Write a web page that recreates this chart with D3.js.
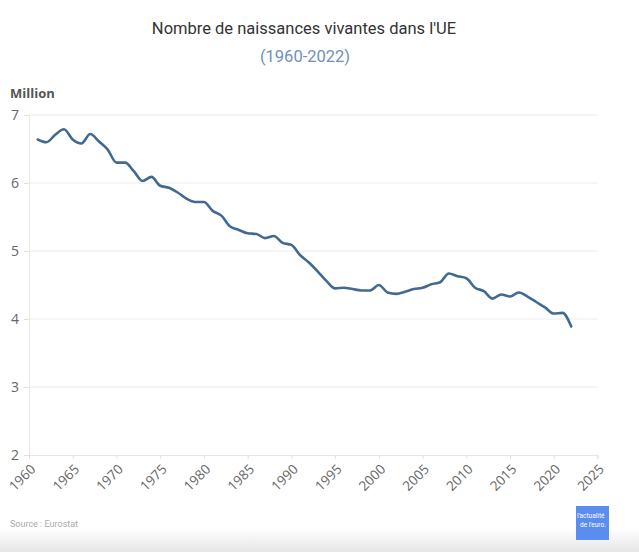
<!DOCTYPE html>
<html>
<head>
<meta charset="utf-8">
<script src="https://cdn.jsdelivr.net/npm/d3@7"></script>
<style>
  html, body { margin: 0; padding: 0; background: #fff; }
  svg { display: block; }
</style>
</head>
<body>
<svg id="chart" width="639" height="552"></svg>
<script>
const years = d3.range(1961, 2023);
const births = [
  6.64, 6.60, 6.71, 6.79, 6.64, 6.58, 6.72, 6.61, 6.49, 6.30,
  6.30, 6.17, 6.03, 6.09, 5.96, 5.93, 5.86, 5.77, 5.72, 5.72,
  5.59, 5.52, 5.36, 5.31, 5.26, 5.25, 5.19, 5.22, 5.12, 5.09,
  4.94, 4.83, 4.70, 4.56, 4.45, 4.46, 4.44, 4.42, 4.42, 4.50,
  4.39, 4.37, 4.40, 4.44, 4.46, 4.51, 4.54, 4.67, 4.63, 4.60,
  4.46, 4.41, 4.30, 4.36, 4.33, 4.39, 4.33, 4.25, 4.17, 4.08,
  4.09, 3.89
];
const yTicks = [2, 3, 4, 5, 6, 7];
const xTicks = [1960, 1965, 1970, 1975, 1980, 1985, 1990, 1995, 2000, 2005, 2010, 2015, 2020, 2025];

const title = "Nombre de naissances vivantes dans l'UE";
const subtitle = "(1960-2022)";
const unitLabel = "Million";
const source = "Source : Eurostat";

const svg = d3.select("#chart");
const font = "Roboto, 'Open Sans', sans-serif";

const x = d3.scaleLinear().domain([1960, 2025]).range([29, 597.5]);
const y = d3.scaleLinear().domain([2, 7]).range([455, 115]);

// bottom gray band
const defs = svg.append("defs");
const grad = defs.append("linearGradient").attr("id", "bottomGrad")
  .attr("x1", 0).attr("y1", 0).attr("x2", 0).attr("y2", 1);
grad.append("stop").attr("offset", 0).attr("stop-color", "#ffffff");
grad.append("stop").attr("offset", 1).attr("stop-color", "#e6e6e6");
svg.append("rect").attr("x", 0).attr("y", 528).attr("width", 639).attr("height", 24)
  .attr("fill", "url(#bottomGrad)");

// titles
svg.append("text").attr("x", 304).attr("y", 34).attr("text-anchor", "middle")
  .attr("font-family", font).attr("font-size", 16.5).attr("fill", "#333")
  .text(title);
svg.append("text").attr("x", 305).attr("y", 62).attr("text-anchor", "middle")
  .attr("font-family", font).attr("font-size", 16.5).attr("fill", "#6f8fbf")
  .text(subtitle);

svg.append("text").attr("x", 10).attr("y", 98)
  .attr("font-family", "'Open Sans', sans-serif").attr("font-size", 13).attr("font-weight", "bold")
  .attr("fill", "#555").text(unitLabel);

// gridlines
svg.append("g").selectAll("line").data(yTicks.filter(d => d !== 2)).join("line")
  .attr("x1", x(1960)).attr("x2", x(2025))
  .attr("y1", d => y(d)).attr("y2", d => y(d))
  .attr("stroke", "#ececec").attr("stroke-width", 1);

// y axis
const yAxis = svg.append("g").attr("transform", `translate(${x(1960)},0)`)
  .call(d3.axisLeft(y).tickValues(yTicks).tickSize(5).tickPadding(5).tickFormat(d3.format("d")));
yAxis.select(".domain").attr("stroke", "#e8e8e8");
yAxis.selectAll(".tick line").attr("stroke", "#e0e0e0");
yAxis.selectAll(".tick text").attr("font-family", "'Open Sans', sans-serif")
  .attr("font-size", 14).attr("fill", "#666");

// x axis
const xAxis = svg.append("g").attr("transform", `translate(0,${y(2)})`)
  .call(d3.axisBottom(x).tickValues(xTicks).tickSize(4).tickFormat(d3.format("d")));
xAxis.select(".domain").attr("stroke", "#e6e6e6");
xAxis.selectAll(".tick line").attr("stroke", "#e0e0e0");
xAxis.selectAll(".tick text")
  .attr("font-family", "'Open Sans', sans-serif").attr("font-size", 13.5).attr("fill", "#666")
  .attr("text-anchor", "end")
  .attr("dy", null).attr("y", 0)
  .attr("transform", "translate(7,15) rotate(-45)");

// line
const line = d3.line()
  .x((d, i) => x(years[i]))
  .y(d => y(d))
  .curve(d3.curveMonotoneX);
svg.append("path").datum(births)
  .attr("d", line)
  .attr("fill", "none")
  .attr("stroke", "#416a93")
  .attr("stroke-width", 2.6)
  .attr("stroke-linejoin", "round")
  .attr("stroke-linecap", "round");

// source
svg.append("text").attr("x", 10).attr("y", 527)
  .attr("font-family", font).attr("font-size", 9).attr("fill", "#aaa")
  .text(source);

// logo
const logo = svg.append("g");
logo.append("rect").attr("x", 576).attr("y", 506).attr("width", 33).attr("height", 34)
  .attr("fill", "#5b8def");
logo.append("text").attr("x", 577).attr("y", 518)
  .attr("font-family", font).attr("font-size", 6.5).attr("fill", "#fff")
  .text("l'actualité");
logo.append("text").attr("x", 580).attr("y", 527)
  .attr("font-family", font).attr("font-size", 6.5).attr("fill", "#fff")
  .text("de l'euro.");
</script>
</body>
</html>
